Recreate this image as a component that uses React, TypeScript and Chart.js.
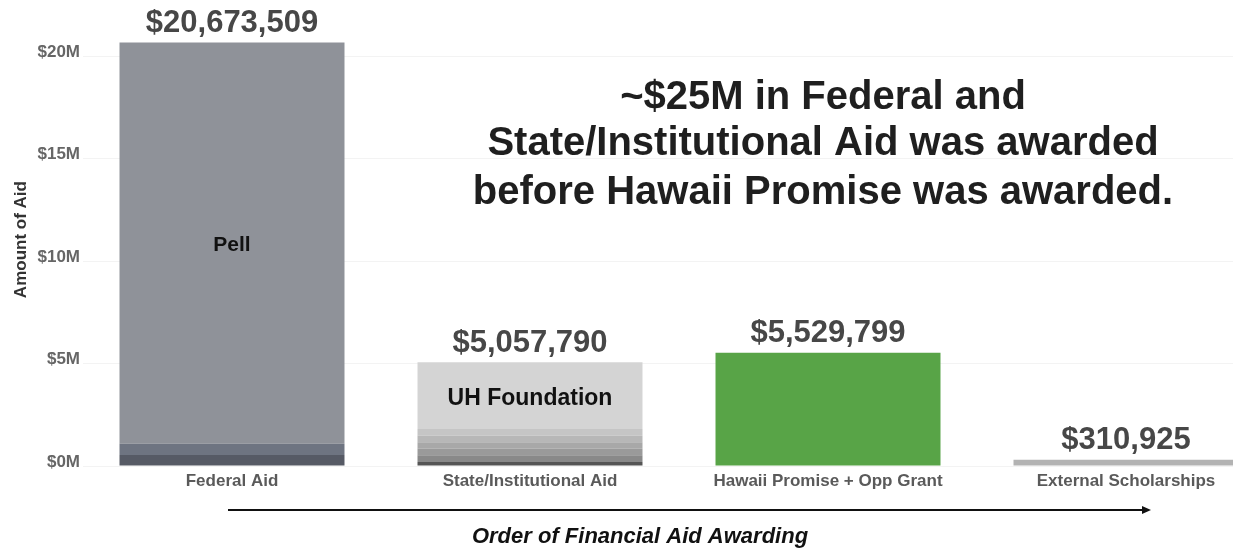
import React, { useEffect, useRef } from "react";
import { Chart, registerables } from "chart.js";

Chart.register(...registerables);

const categories = [
  "Federal Aid",
  "State/Institutional Aid",
  "Hawaii Promise + Opp Grant",
  "External Scholarships",
];
const totals = [20673509, 5057790, 5529799, 310925];
const totalLabels = ["$20,673,509", "$5,057,790", "$5,529,799", "$310,925"];

// stacked segments (bottom to top)
const fedDark = [540000, 0, 0, 0];
const fedMid = [540000, 0, 0, 0];
const pell = [19593509, 0, 0, 0];
const stateBand1 = [0, 200000, 0, 0];
const stateBand2 = [0, 320000, 0, 0];
const stateBand3 = [0, 320000, 0, 0];
const stateBand4 = [0, 320000, 0, 0];
const stateBand5 = [0, 320000, 0, 0];
const stateBand6 = [0, 320000, 0, 0];
const uhFoundation = [0, 3257790, 0, 0];
const hawaiiPromise = [0, 0, 5529799, 0];
const externalScholarships = [0, 0, 0, 310925];

const yTickValues = [0, 5000000, 10000000, 15000000, 20000000];

const innerLabels = ["Pell", "UH Foundation"];
const innerLabelValues = [10800000, 3300000];

const noteLines = [
  "~$25M in Federal and",
  "State/Institutional Aid was awarded",
  "before Hawaii Promise was awarded.",
];
const noteLineValues = [17950000, 15700000, 13350000];

const FONT = '"Liberation Sans", Arial, Helvetica, sans-serif';

const overlayPlugin = {
  id: "overlay",
  afterDraw(chart: any) {
    const { ctx, chartArea, scales } = chart;
    const xs = scales.x;
    const ys = scales.y;
    ctx.save();
    ctx.textAlign = "center";
    ctx.textBaseline = "middle";

    // totals above bars
    ctx.fillStyle = "#474747";
    ctx.font = `bold 31px ${FONT}`;
    totals.forEach((v, i) => {
      ctx.fillText(totalLabels[i], xs.getPixelForValue(i), ys.getPixelForValue(v) - 19);
    });

    // inner labels
    ctx.fillStyle = "#111111";
    ctx.font = `bold 21px ${FONT}`;
    ctx.fillText(innerLabels[0], xs.getPixelForValue(0), ys.getPixelForValue(innerLabelValues[0]));
    ctx.font = `bold 23px ${FONT}`;
    ctx.fillText(innerLabels[1], xs.getPixelForValue(1), ys.getPixelForValue(innerLabelValues[1]));

    // note
    ctx.fillStyle = "#1f1f1f";
    ctx.font = `bold 40px ${FONT}`;
    noteLines.forEach((t, i) => {
      ctx.fillText(t, xs.getPixelForValue(2) - 5, ys.getPixelForValue(noteLineValues[i]));
    });

    // arrow
    const ay = chartArea.bottom + 44;
    const ax0 = xs.getPixelForValue(0) - 4;
    const ax1 = xs.getPixelForValue(3) + 25;
    ctx.strokeStyle = "#111111";
    ctx.lineWidth = 2;
    ctx.beginPath();
    ctx.moveTo(ax0, ay);
    ctx.lineTo(ax1 - 6, ay);
    ctx.stroke();
    ctx.fillStyle = "#111111";
    ctx.beginPath();
    ctx.moveTo(ax1, ay);
    ctx.lineTo(ax1 - 9, ay - 4);
    ctx.lineTo(ax1 - 9, ay + 4);
    ctx.closePath();
    ctx.fill();

    // bottom title
    ctx.font = `italic bold 22px ${FONT}`;
    ctx.fillText("Order of Financial Aid Awarding", chartArea.left + 557, chartArea.bottom + 71);
    ctx.restore();
  },
};

export default function App() {
  const ref = useRef<HTMLCanvasElement | null>(null);
  useEffect(() => {
    document.body.style.margin = "0";
    document.body.style.overflow = "hidden";
    const canvas = ref.current;
    if (!canvas) return;
    const mk = (label: string, data: number[], color: string) => ({
      label,
      data,
      backgroundColor: color,
      borderWidth: 0,
      categoryPercentage: 1,
      barPercentage: 0.755,
    });
    const chart = new Chart(canvas, {
      type: "bar",
      data: {
        labels: categories,
        datasets: [
          mk("Federal (other)", fedDark, "#565a65"),
          mk("Federal (other 2)", fedMid, "#6e7481"),
          mk("Pell", pell, "#8f9299"),
          mk("State 1", stateBand1, "#555555"),
          mk("State 2", stateBand2, "#898989"),
          mk("State 3", stateBand3, "#9a9a9a"),
          mk("State 4", stateBand4, "#a8a8a8"),
          mk("State 5", stateBand5, "#b7b7b7"),
          mk("State 6", stateBand6, "#c5c5c5"),
          mk("UH Foundation", uhFoundation, "#d4d4d4"),
          mk("Hawaii Promise + Opp Grant", hawaiiPromise, "#58a447"),
          mk("External Scholarships", externalScholarships, "#b3b3b3"),
        ],
      },
      options: {
        responsive: false,
        animation: false,
        layout: { padding: { top: 8, right: 5, left: 0, bottom: 0 } },
        plugins: {
          legend: { display: false },
          tooltip: { enabled: false },
        },
        scales: {
          x: {
            stacked: true,
            grid: { display: false, drawTicks: false },
            border: { display: false },
            ticks: {
              color: "#5a5a5a",
              font: { family: FONT, size: 17, weight: "bold" },
              padding: 5,
              maxRotation: 0,
              autoSkip: false,
            },
            afterFit: (s: any) => {
              s.height = 84;
            },
          },
          y: {
            stacked: true,
            min: 0,
            max: 22100000,
            border: { display: false },
            grid: { color: "#f3f3f3", drawTicks: false },
            afterBuildTicks: (s: any) => {
              s.ticks = yTickValues.map((v) => ({ value: v }));
            },
            ticks: {
              color: "#666666",
              font: { family: FONT, size: 17, weight: "bold" },
              padding: 3,
              labelOffset: -4,
              callback: (v: any) => "$" + Number(v) / 1000000 + "M",
            },
            title: {
              display: true,
              text: "Amount of Aid",
              color: "#333333",
              font: { family: FONT, size: 17, weight: "bold" },
              padding: { top: 11, bottom: 0 },
            },
            afterFit: (s: any) => {
              s.width = 83;
            },
          },
        },
      },
      plugins: [overlayPlugin],
    });
    return () => chart.destroy();
  }, []);
  return (
    <div style={{ width: 1280, height: 550 }}>
      <canvas ref={ref} width={1280} height={550} style={{ display: "block" }} />
    </div>
  );
}
